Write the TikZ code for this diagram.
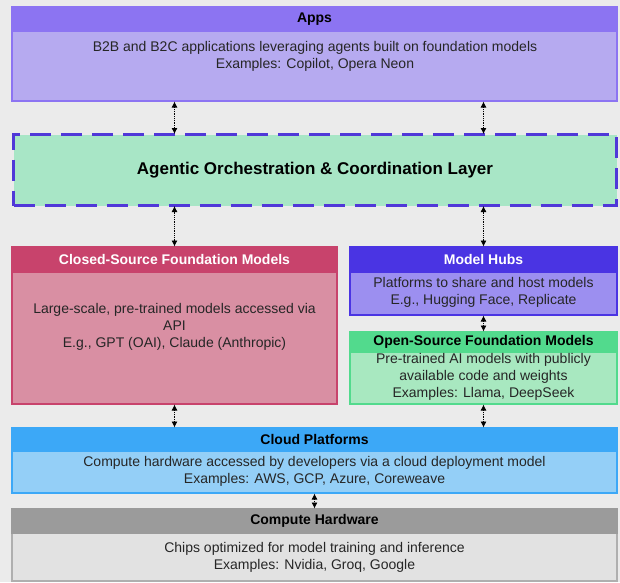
\documentclass[tikz,border=0pt]{standalone}
\usepackage{fontspec}
\setmainfont{Liberation Sans}
\usetikzlibrary{positioning,arrows.meta}

\definecolor{bgc}{HTML}{EBEBEB}
\definecolor{appsHead}{HTML}{8C74F2}
\definecolor{appsBody}{HTML}{B6AAF0}
\definecolor{agentFill}{HTML}{A8E6C6}
\definecolor{agentLine}{HTML}{5038D8}
\definecolor{closedHead}{HTML}{C8436C}
\definecolor{closedBody}{HTML}{D98FA3}
\definecolor{hubsHead}{HTML}{4A34E3}
\definecolor{hubsBody}{HTML}{9C8FF0}
\definecolor{openHead}{HTML}{52DA8D}
\definecolor{openBody}{HTML}{A8E8C0}
\definecolor{cloudHead}{HTML}{3CA8F7}
\definecolor{cloudBody}{HTML}{94CFF7}
\definecolor{hwHead}{HTML}{9B9B9B}
\definecolor{hwBody}{HTML}{E2E2E2}

\tikzset{
	layer/.style={draw, line width=1.2pt, anchor=north west, inner sep=0pt, outer sep=0pt},
	head/.style={layer, font=\bfseries\fontsize{14}{17}\selectfont},
	txt/.style={align=center, font=\fontsize{14}{17}\selectfont, text=black!85},
	link/.style={densely dotted, line width=0.8pt, {Latex[length=6pt,width=6pt]}-{Latex[length=6pt,width=6pt]}, shorten >=0.5pt, shorten <=0.5pt}
}

\begin{document}
\begin{tikzpicture}[x=1pt, y=-1pt]
	% Fondo
	\fill [bgc] (0,0) rectangle (620,582);

	% Apps
	\node [layer, draw=appsHead, fill=appsBody, minimum width=605, minimum height=94] (apps) at (12,7) {};
	\node [head, draw=appsHead, fill=appsHead, minimum width=605, minimum height=24] (appsTop) at (12,7) {Apps};
	\node [txt] (appsText) at (315,56) {B2B and B2C applications leveraging agents built on foundation models\\Examples: Copilot, Opera Neon};

	% Orchestration layer
	\node [layer, draw=agentLine, fill=agentFill, line width=2.6pt, dash pattern=on 21pt off 10pt, minimum width=603, minimum height=71,
		font=\bfseries\fontsize{17}{20}\selectfont] (agent) at (13.5,134.5) {Agentic Orchestration \& Coordination Layer};

	% Closed-source models
	\node [layer, draw=closedHead, fill=closedBody, minimum width=325, minimum height=157] (closed) at (12,247) {};
	\node [head, draw=closedHead, fill=closedHead, text=white, minimum width=325, minimum height=25] (closedTop) at (12,247) {Closed-Source Foundation Models};
	\node [txt] (closedText) at (174.5,327) {Large-scale, pre-trained models accessed via\\API\\E.g., GPT (OAI), Claude (Anthropic)};

	% Model hubs
	\node [layer, draw=hubsHead, fill=hubsBody, minimum width=267, minimum height=68] (hubs) at (350,247) {};
	\node [head, draw=hubsHead, fill=hubsHead, text=white, minimum width=267, minimum height=25] (hubsTop) at (350,247) {Model Hubs};
	\node [txt] (hubsText) at (483.5,292) {Platforms to share and host models\\E.g., Hugging Face, Replicate};

	% Open-source models
	\node [layer, draw=openHead, fill=openBody, minimum width=267, minimum height=72] (open) at (350,332) {};
	\node [head, draw=openHead, fill=openHead, minimum width=267, minimum height=20] (openTop) at (350,332) {Open-Source Foundation Models};
	\node [txt] (openText) at (483.5,377) {Pre-trained AI models with publicly\\available code and weights\\Examples: Llama, DeepSeek};

	% Cloud
	\node [layer, draw=cloudHead, fill=cloudBody, minimum width=605, minimum height=65] (cloud) at (12,428) {};
	\node [head, draw=cloudHead, fill=cloudHead, minimum width=605, minimum height=23] (cloudTop) at (12,428) {Cloud Platforms};
	\node [txt] (cloudText) at (314.5,471) {Compute hardware accessed by developers via a cloud deployment model\\Examples: AWS, GCP, Azure, Coreweave};

	% Hardware
	\node [layer, draw=hwHead!80!white, fill=hwBody, minimum width=605, minimum height=72] (hw) at (12,509) {};
	\node [head, draw=hwHead, fill=hwHead, minimum width=605, minimum height=24] (hwTop) at (12,509) {Compute Hardware};
	\node [txt] (hwText) at (314.5,557) {Chips optimized for model training and inference\\Examples: Nvidia, Groq, Google};

	% Flechas
	\draw [link] (apps.south -| closed.north) -- (agent.north -| closed.north);
	\draw [link] (apps.south -| hubs.north) -- (agent.north -| hubs.north);
	\draw [link] (agent.south -| closed.north) -- (closed.north);
	\draw [link] (agent.south -| hubs.north) -- (hubs.north);
	\draw [link] (hubs.south) -- (open.north);
	\draw [link] (closed.south) -- (cloud.north -| closed.south);
	\draw [link] (open.south) -- (cloud.north -| open.south);
	\draw [link] (cloud.south) -- (hw.north);
\end{tikzpicture}
\end{document}
